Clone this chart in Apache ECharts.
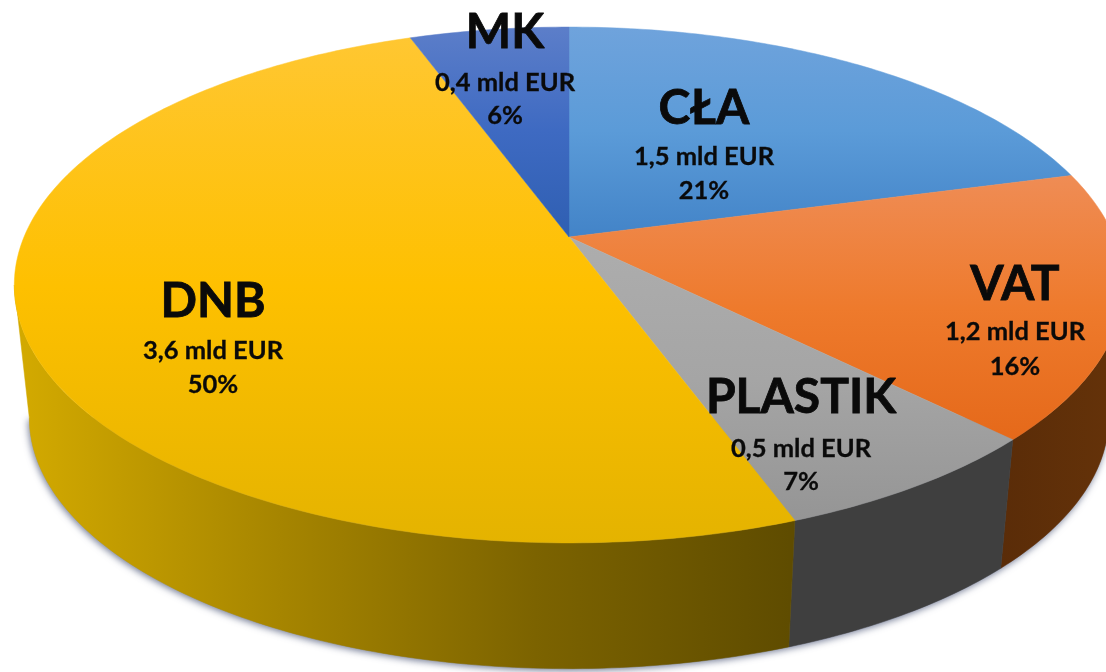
<!DOCTYPE html>
<html>
<head>
<meta charset="utf-8">
<title>Zasoby własne</title>
<style>
  html, body { margin: 0; padding: 0; background: #fff; }
  #chart { width: 1106px; height: 672px; }
</style>
<script src="https://cdn.jsdelivr.net/npm/echarts@6/dist/echarts.min.js"></script>
</head>
<body>
<div id="chart"></div>
<script>
const names = ['CŁA', 'VAT', 'PLASTIK', 'DNB', 'MK']
const amounts = [1.5, 1.2, 0.5, 3.6, 0.4]
const percents = [21, 16, 7, 50, 6]

// label centre x and the baselines of the three lines
const labelLayout = [
  [704, 124, 165, 199],
  [1015, 300, 340, 375],
  [801, 413, 457, 490],
  [213, 317, 359, 393],
  [505, 48, 91, 124]
]

const LinearGradient = echarts.graphic.LinearGradient
const vertical = (y0, y1, stops) =>
  new LinearGradient(0, y0, 0, y1, stops.map((c, i) => ({ offset: i / (stops.length - 1), color: c })), true)
const horizontal = (x0, x1, stops) =>
  new LinearGradient(x0, 0, x1, 0, stops.map((c, i) => ({ offset: i / (stops.length - 1), color: c })), true)

const topFills = [
  vertical(27, 235, ['#6fa3dc', '#5b9bd8', '#4384c8']),
  vertical(178, 440, ['#ef8c54', '#ee7a2c', '#e5691a']),
  vertical(240, 520, ['#adadad', '#a5a5a5', '#959595']),
  vertical(30, 545, ['#ffc733', '#fec000', '#e4b300']),
  vertical(27, 235, ['#5c7ec9', '#3e6ac2', '#2f5fb2'])
]
const wallFills = [
  '#4a7db0',
  horizontal(1000, 1106, ['#5a2c08', '#643209']),
  '#3f3f3f',
  horizontal(25, 790, ['#d2a900', '#a68500', '#7c6300', '#5f4c00']),
  '#2f5fb2'
]

// pie plane seen in perspective: near side bigger than far side
const CX = 569
const CY = 237
const RX = 545
const RY = 249
const P = 0.186
const LOWER_SCALE = 0.973
const LOWER_CY = 371
const SIDE_FROM = Math.acos(-P)
const SIDE_TO = 2 * Math.PI - SIDE_FROM

function project(theta, lower) {
  const d = 1 + P * Math.cos(theta)
  const x = RX * Math.sin(theta) / d
  const y = -RY * Math.cos(theta) / d
  return lower
    ? [CX + LOWER_SCALE * x, LOWER_CY + LOWER_SCALE * y]
    : [CX + x, CY + y]
}

function arc(from, to, lower) {
  const steps = Math.max(2, Math.ceil(Math.abs(to - from) / 0.015))
  const pts = []
  for (let i = 0; i <= steps; i++) pts.push(project(from + (to - from) * i / steps, lower))
  return pts
}

const total = amounts.reduce((a, b) => a + b, 0)
const angleAt = (i) => amounts.slice(0, i).reduce((a, b) => a + b, 0) / total * 2 * Math.PI

const rows = amounts.map((v, i) => [i, v])

function renderShadow() {
  return {
    type: 'polygon',
    shape: { points: arc(SIDE_FROM, SIDE_TO, true) },
    style: { fill: '#8c93a8', shadowBlur: 7, shadowColor: 'rgba(70,80,115,0.75)', shadowOffsetX: -1, shadowOffsetY: 2 }
  }
}

function renderWall(params, api) {
  const i = api.value(0)
  const from = Math.max(angleAt(i), SIDE_FROM)
  const to = Math.min(angleAt(i + 1), SIDE_TO)
  if (to <= from) return null
  return {
    type: 'polygon',
    shape: { points: arc(from, to, false).concat(arc(to, from, true)) },
    style: { fill: wallFills[i], stroke: wallFills[i], lineWidth: 0.5 }
  }
}

function renderTop(params, api) {
  const i = api.value(0)
  return {
    type: 'polygon',
    shape: { points: [[CX, CY]].concat(arc(angleAt(i), angleAt(i + 1), false)) },
    style: { fill: topFills[i], stroke: topFills[i], lineWidth: 0.5 }
  }
}

function renderLabel(params, api) {
  const i = api.value(0)
  const [x, y1, y2, y3] = labelLayout[i]
  // top aligned text sits about 0.83em above its baseline here
  const line = (text, y, size, weight) => ({
    type: 'text',
    style: {
      text, x,
      y: y - 0.83 * size,
      fill: '#0a0a0a',
      stroke: '#0a0a0a',
      lineWidth: weight,
      align: 'center',
      verticalAlign: 'top',
      fontFamily: 'Lato',
      fontWeight: 'bold',
      fontSize: size
    }
  })
  const amount = String(api.value(1)).replace('.', ',') + ' mld EUR'
  return {
    type: 'group',
    children: [
      line(names[i], y1, 48, 0.8),
      line(amount, y2, 25.5, 0.3),
      line(percents[i] + '%', y3, 25.5, 0.3)
    ]
  }
}

const chart = echarts.init(document.getElementById('chart'), null, { renderer: 'canvas' })
const layer = (renderItem, data) => ({ type: 'custom', coordinateSystem: 'none', silent: true, clip: false, data, renderItem })
chart.setOption({
  animation: false,
  backgroundColor: '#fff',
  series: [
    layer(renderShadow, [[0]]),
    layer(renderWall, rows),
    layer(renderTop, rows),
    layer(renderLabel, rows)
  ]
})
</script>
</body>
</html>
